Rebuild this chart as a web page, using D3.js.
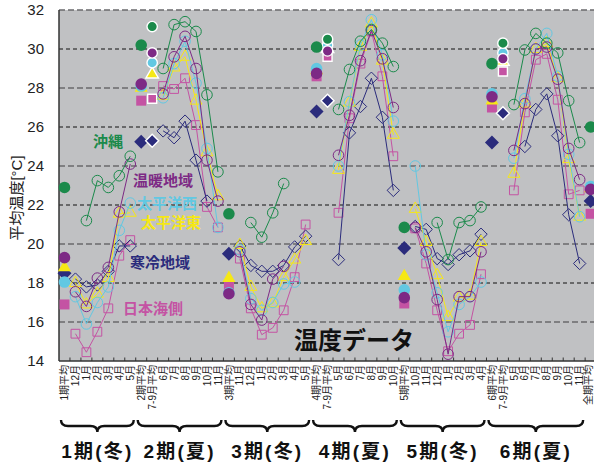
<!DOCTYPE html>
<html>
<head>
<meta charset="utf-8">
<script src="https://cdn.jsdelivr.net/npm/d3@7/dist/d3.min.js"></script>
<style>
  body { margin: 0; background: #fff; }
  text { font-family: "Liberation Sans", "Noto Sans CJK JP", sans-serif; }
</style>
</head>
<body>
<svg id="chart" width="594" height="466"></svg>
<script>
// ---- data -------------------------------------------------------------
const categories = [
  "1期平均","12月","1月","2月","3月","4月","5月",
  "2期平均","7-9月平均","6月","7月","8月","9月","10月","11月",
  "3期平均","11月","12月","1月","2月","3月","4月","5月",
  "4期平均","7-9月平均","5月","6月","7月","8月","9月","10月",
  "5期平均","10月","11月","12月","1月","2月","3月","4月",
  "6期平均","7-9月平均","5月","6月","7月","8月","9月","10月","11月",
  "全期平均"
];

const periodLabels = ["1期(冬)", "2期(夏)", "3期(冬)", "4期(夏)", "5期(冬)", "6期(夏)"];
const yTicks = [14, 16, 18, 20, 22, 24, 26, 28, 30, 32];

const okinawa = [
  22.9, null, 21.2, 23.25, 22.9, 23.5, 24.5,
  30.2, 31.15, 29.0, 31.25, 31.4, 30.9, 27.65, 23.7,
  21.55, null, 21.1, 20.35, 21.6, 23.1, null, null,
  30.1, 30.5, 26.9, 28.95, 30.4, 31.0, 30.3, 29.1,
  20.85, null, null, 21.1, 19.2, 21.1, 21.2, 21.9,
  29.25, 30.3, 27.15, 29.95, 30.8, 30.3, 29.8, 27.35, 25.2,
  26.0
];
const warm = [
  19.3, 17.55, 16.8, 18.25, 18.8, 21.65, 24.1,
  28.2, 29.8, 27.7, 29.6, 30.65, 29.0, 24.3, 22.2,
  17.45, 19.6, 16.9, 16.1, 18.2, 18.85, null, null,
  28.75, 29.9, 24.55, 26.6, 29.4, 30.95, 29.5, 27.0,
  17.25, 20.85, 19.6, 17.15, 14.35, 17.3, 17.3, 19.6,
  27.55, 29.5, 24.8, 27.2, 30.0, 30.1, 28.45, 24.9, 23.3,
  22.8
];
const pacificWest = [
  18.05, 17.3, 15.9, 17.0, 17.8, 20.7, 22.1,
  28.1, 29.3, 27.5, 29.25, 30.4, 28.25, 24.9, 20.85,
  17.5, 19.7, 17.2, 16.6, 17.0, 17.95, 18.05, null,
  29.0, 30.2, 24.0, 27.3, 30.2, 31.5, 29.7, 26.3,
  17.65, 24.0, 19.45, 17.5, 15.5, 16.9, 17.3, 18.05,
  27.7, 29.8, 24.4, 27.45, 30.0, 30.8, 28.6, 24.6, 21.4,
  22.95
];
const pacificEast = [
  18.8, 18.0, 16.9, 17.45, 18.25, 21.55, 21.6,
  28.0, 28.7, 27.6, 29.05, 29.6, 27.35, 24.7, 22.45,
  18.25, 19.95, 17.8, 16.7, 16.95, 18.3, 19.2, 20.15,
  28.9, 30.0, 23.8, 27.25, 30.1, 31.3, 29.4, 25.6,
  18.35, 21.8, 20.1, 18.4, 16.25, 17.25, 17.35, 20.1,
  27.35, 29.35, 23.6, 27.2, 30.0, 30.3, 28.5, 24.35, 21.4,
  22.85
];
const cold = [
  18.5, 18.2, 17.8, 17.9, 18.6, 19.9, 19.9,
  25.25, 25.3, 25.8, 25.45, 26.3, 24.3, 22.2, null,
  19.5, 19.9, 18.9, 18.6, 18.6, 18.9, 19.85, 20.4,
  26.8, 27.35, 19.2, 25.7, 27.05, 28.5, 26.5, 22.75,
  19.8, 20.9, 20.75, 19.25, 18.95, 19.45, 19.65, 20.5,
  25.2, 26.7, null, 25.0, 26.9, 27.7, 25.55, 21.5, 19.0,
  22.2
];
const japanSea = [
  16.9, 15.4, 14.45, 15.5, 16.7, 19.4, 20.2,
  27.35, 27.45, 28.1, 27.95, 28.5, 26.1, 21.9, 20.85,
  17.8, 19.25, 16.7, 15.35, 15.7, 16.6, 18.3, 21.0,
  28.6, 29.6, 21.6, 26.45, 29.25, 30.9, 28.6, 24.5,
  16.95, 20.8, 19.0, 16.6, 14.5, 15.4, 15.85, 18.45,
  27.0, 28.85, 22.75, 26.75, 29.45, 29.75, 27.4, 22.55, 22.75,
  21.55
];

// drawing order: bottom to top
const series = [
  { name: "日本海側", values: japanSea,    color: "#c453a3", shape: "square" },
  { name: "寒冷地域", values: cold,        color: "#2b2c7c", shape: "diamond" },
  { name: "太平洋東", values: pacificEast, color: "#f6e815", shape: "triangle" },
  { name: "太平洋西", values: pacificWest, color: "#62c8e2", shape: "circle" },
  { name: "温暖地域", values: warm,        color: "#7d2a85", shape: "circle" },
  { name: "沖縄",     values: okinawa,     color: "#1b8a4b", shape: "circle" }
];

// ---- layout -----------------------------------------------------------
const svg = d3.select("#chart");
const plot = { left: 59, right: 596.1, top: 10, bottom: 361 };

const x = d3.scaleBand().domain(d3.range(categories.length)).range([plot.left, plot.right]);
const y = d3.scaleLinear().domain([14, 32]).range([plot.bottom, plot.top]);
const cx = i => x(i) + x.bandwidth() / 2;

// category kind and period group
const kinds = categories.map(c => c === "7-9月平均" ? "jas" : (c.endsWith("期平均") ? "avg" : "month"));
let g = -1;
const groups = kinds.map(k => { if (k === "avg") g += 1; return g; });

// ---- background & grid -----------------------------------------------
svg.append("rect")
  .attr("x", plot.left).attr("y", plot.top)
  .attr("width", plot.right - plot.left).attr("height", plot.bottom - plot.top)
  .attr("fill", "#c0c1c3");

svg.append("g").selectAll("line")
  .data(yTicks.filter(v => v > 14))
  .join("line")
  .attr("x1", plot.left).attr("x2", plot.right)
  .attr("y1", d => y(d)).attr("y2", d => y(d))
  .attr("stroke", d => d % 4 === 0 ? "#6a6a6c" : "#111")
  .attr("stroke-width", d => d % 4 === 0 ? 1.6 : 1)
  .attr("stroke-dasharray", d => d % 4 === 0 ? "6,3" : "4,3");

// ---- axes -------------------------------------------------------------
const yAxis = svg.append("g")
  .attr("transform", `translate(${plot.left},0)`)
  .call(d3.axisLeft(y).tickValues(yTicks).tickSize(0).tickPadding(15));
yAxis.select(".domain").remove();
yAxis.selectAll("text").attr("font-size", 15).attr("fill", "#222")
  .attr("font-family", "'Liberation Sans', Arial, sans-serif");

svg.append("line")
  .attr("x1", plot.left).attr("x2", plot.left)
  .attr("y1", plot.top).attr("y2", plot.bottom)
  .attr("stroke", "#333").attr("stroke-width", 1.5);
svg.append("line")
  .attr("x1", plot.left).attr("x2", plot.right)
  .attr("y1", plot.bottom).attr("y2", plot.bottom)
  .attr("stroke", "#333").attr("stroke-width", 1.5);

// inner ticks at band boundaries
svg.append("g").selectAll("line")
  .data(d3.range(1, categories.length))
  .join("line")
  .attr("x1", i => x(i)).attr("x2", i => x(i))
  .attr("y1", plot.bottom).attr("y2", plot.bottom - 3.5)
  .attr("stroke", "#333").attr("stroke-width", 1);

// rotated category labels (the last one kept inside the page edge)
const labelX = i => Math.min(cx(i), 588.5);
svg.append("g").selectAll("text")
  .data(categories)
  .join("text")
  .attr("transform", (d, i) => `translate(${labelX(i)},${plot.bottom + 4}) rotate(-90)`)
  .attr("text-anchor", "end")
  .attr("dy", "0.36em")
  .attr("font-size", 10)
  .attr("fill", "#222")
  .text(d => d);

// y-axis title
svg.append("text")
  .attr("transform", "translate(17,198) rotate(-90)")
  .attr("text-anchor", "middle")
  .attr("dy", "0.36em")
  .attr("font-size", 15)
  .attr("fill", "#222")
  .text("平均温度[°C]");

// ---- period braces and labels -------------------------------------------
const periodSpans = d3.range(6).map(p => {
  const idx = d3.range(categories.length).filter(i => groups[i] === p);
  return { p, x1: x(idx[0]) + 2, x2: x(idx[idx.length - 1]) + x.bandwidth() - 2 };
});

function bracePath(x1, x2, y0, d) {
  const xm = (x1 + x2) / 2, r = 7, ym = y0 + d / 2;
  return `M${x1},${y0} Q${x1},${ym} ${x1 + r},${ym} L${xm - r},${ym} Q${xm},${ym} ${xm},${y0 + d}` +
         ` Q${xm},${ym} ${xm + r},${ym} L${x2 - r},${ym} Q${x2},${ym} ${x2},${y0}`;
}

svg.append("g").selectAll("path")
  .data(periodSpans)
  .join("path")
  .attr("d", s => bracePath(s.x1, s.x2, 420, 12))
  .attr("fill", "none").attr("stroke", "#111").attr("stroke-width", 2.4);

svg.append("g").selectAll("text")
  .data(periodSpans)
  .join("text")
  .attr("x", s => (s.x1 + s.x2) / 2)
  .attr("y", 451)
  .attr("text-anchor", "middle")
  .attr("dy", "0.36em")
  .attr("font-size", 19)
  .attr("font-weight", "bold")
  .attr("letter-spacing", 2.2)
  .attr("fill", "#111")
  .text(s => periodLabels[s.p]);

// ---- markers ------------------------------------------------------------
function shapePath(shape, s) {
  switch (shape) {
    case "circle":
      return `M${-s},0A${s},${s} 0 1,0 ${s},0A${s},${s} 0 1,0 ${-s},0Z`;
    case "triangle": {
      const h = s * Math.sqrt(3) / 2;
      return `M0,${-2 * h / 3}L${s / 2},${h / 3}L${-s / 2},${h / 3}Z`;
    }
    case "square":
      return `M${-s / 2},${-s / 2}H${s / 2}V${s / 2}H${-s / 2}Z`;
    case "diamond":
      return `M0,${-s}L${s},0L0,${s}L${-s},0Z`;
  }
}
const sizes = {
  month: { circle: 5.3, triangle: 12, square: 8.8, diamond: 6.2 },
  avg:   { circle: 5.8, triangle: 13, square: 10, diamond: 7 },
  jas:   { circle: 5.2, triangle: 12.5, square: 9, diamond: 6.5 }
};

const line = d3.line()
  .defined(d => d.v != null)
  .x(d => cx(d.i))
  .y(d => y(d.v));

series.forEach(s => {
  const pts = s.values.map((v, i) => ({ v, i, kind: kinds[i], grp: groups[i] }));
  const layer = svg.append("g");

  // monthly lines, one per period
  d3.range(6).forEach(p => {
    const seg = pts.filter(d => d.kind === "month" && d.grp === p);
    layer.append("path")
      .attr("d", line(seg))
      .attr("fill", "none")
      .attr("stroke", s.color)
      .attr("stroke-width", 1);
  });

  // open monthly markers
  layer.selectAll(".m")
    .data(pts.filter(d => d.kind === "month" && d.v != null))
    .join("path")
    .attr("transform", d => `translate(${cx(d.i)},${y(d.v)})`)
    .attr("d", shapePath(s.shape, sizes.month[s.shape]))
    .attr("fill", "none")
    .attr("stroke", s.color)
    .attr("stroke-width", 1);

  // period averages (solid)
  layer.selectAll(".a")
    .data(pts.filter(d => d.kind === "avg" && d.v != null))
    .join("path")
    .attr("transform", d => `translate(${cx(d.i)},${y(d.v)})`)
    .attr("d", shapePath(s.shape, sizes.avg[s.shape]))
    .attr("fill", s.color);

  // July-September averages (solid, white rim)
  layer.selectAll(".j")
    .data(pts.filter(d => d.kind === "jas" && d.v != null))
    .join("path")
    .attr("transform", d => `translate(${cx(d.i)},${y(d.v)})`)
    .attr("d", shapePath(s.shape, sizes.jas[s.shape]))
    .attr("fill", s.color)
    .attr("stroke", "#fff")
    .attr("stroke-width", 1.4);
});

// ---- in-plot legend labels ------------------------------------------
const legendLabels = [
  { text: "沖縄",     color: "#1b8a4b", x: 93,  y: 141.5 },
  { text: "温暖地域", color: "#7d2a85", x: 133, y: 181 },
  { text: "太平洋西", color: "#62c8e2", x: 137, y: 204 },
  { text: "太平洋東", color: "#f6e815", x: 141, y: 223 },
  { text: "寒冷地域", color: "#2b2c7c", x: 130, y: 263 },
  { text: "日本海側", color: "#c453a3", x: 123, y: 309 }
];
svg.append("g").selectAll("text")
  .data(legendLabels)
  .join("text")
  .attr("x", d => d.x).attr("y", d => d.y)
  .attr("dy", "0.36em")
  .attr("font-size", 15)
  .attr("font-weight", "bold")
  .attr("fill", d => d.color)
  .text(d => d.text);

svg.append("text")
  .attr("x", 294).attr("y", 340)
  .attr("dy", "0.36em")
  .attr("font-size", 24)
  .attr("font-weight", "bold")
  .attr("fill", "#111")
  .text("温度データ");
</script>
</body>
</html>
